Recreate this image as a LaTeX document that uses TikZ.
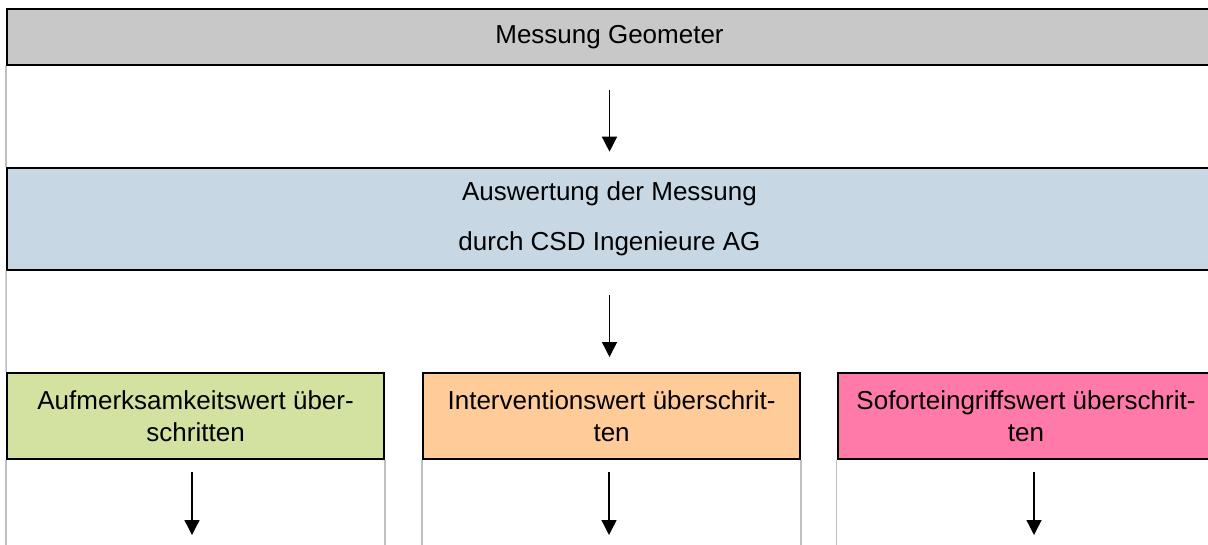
\documentclass[tikz,border=0pt]{standalone}
\usepackage{fontspec}
\setmainfont{Liberation Sans}
\usetikzlibrary{positioning, arrows.meta}
\definecolor{boxgray}{RGB}{200,200,200}
\definecolor{boxblue}{RGB}{199,216,228}
\definecolor{boxgreen}{RGB}{211,226,161}
\definecolor{boxorange}{RGB}{255,204,153}
\definecolor{boxpink}{RGB}{255,122,168}
\definecolor{gridgray}{RGB}{192,192,192}

\begin{document}
\begin{tikzpicture}[
        x=0.5pt, y=-0.5pt,
        stage/.style={rectangle, draw=black, line width=1pt, inner sep=0pt, align=center, font=\fontsize{13}{16}\selectfont},
        wide/.style={stage, minimum width=602.5pt},
        cell/.style={stage, minimum width=188.5pt, minimum height=43pt},
        grid/.style={draw=gridgray, line width=0.75pt},
        arr/.style={-{Triangle[width=7.5pt, length=7.5pt]}, line width=0.7pt}
    ]
        \useasboundingbox (0,0) rectangle (1208,545);
        \clip (0,0) rectangle (1208,545);

        % Stages
        \node[wide, fill=boxgray, minimum height=28pt] (mess) at (609.5,37) {Messung Geometer};
        \node[wide, fill=boxblue, minimum height=51pt, font=\fontsize{13}{25}\selectfont] (ausw) at (609.5,218.7) {Auswertung der Messung\\durch CSD Ingenieure AG};

        % Thresholds
        \node[cell, fill=boxgreen] (aufm) at (195.6,416) {Aufmerksamkeitswert über-\\schritten};
        \node[cell, fill=boxorange] (inter) at (611.6,416) {Interventionswert überschrit-\\ten};
        \node[cell, fill=boxpink] (sofort) at (1026,416) {Soforteingriffswert überschrit-\\ten};

        % Arrow ends
        \coordinate (endA) at (192,535);
        \coordinate (endI) at (609,535);
        \coordinate (endS) at (1034,535);
        \coordinate (bot) at (0,545);

        % Grid lines
        \draw[grid] (mess.south west) -- (ausw.north west);
        \draw[grid] (ausw.south west) -- (aufm.north west);
        \draw[grid] (aufm.south west) -- (aufm.south west |- bot);
        \draw[grid] (aufm.south east) -- (aufm.south east |- bot);
        \draw[grid] (inter.south west) -- (inter.south west |- bot);
        \draw[grid] (inter.south east) -- (inter.south east |- bot);
        \draw[grid] (sofort.south west) -- (sofort.south west |- bot);

        % Arrows
        \draw[arr, shorten <=12pt, shorten >=7.5pt] (mess) -- (ausw);
        \draw[arr, shorten <=12pt, shorten >=7.5pt] (ausw) -- (ausw.south |- inter.north);
        \draw[arr, shorten <=6pt] (aufm.south -| endA) -- (endA);
        \draw[arr, shorten <=6pt] (inter.south -| endI) -- (endI);
        \draw[arr, shorten <=6pt] (sofort.south -| endS) -- (endS);
\end{tikzpicture}
\end{document}
